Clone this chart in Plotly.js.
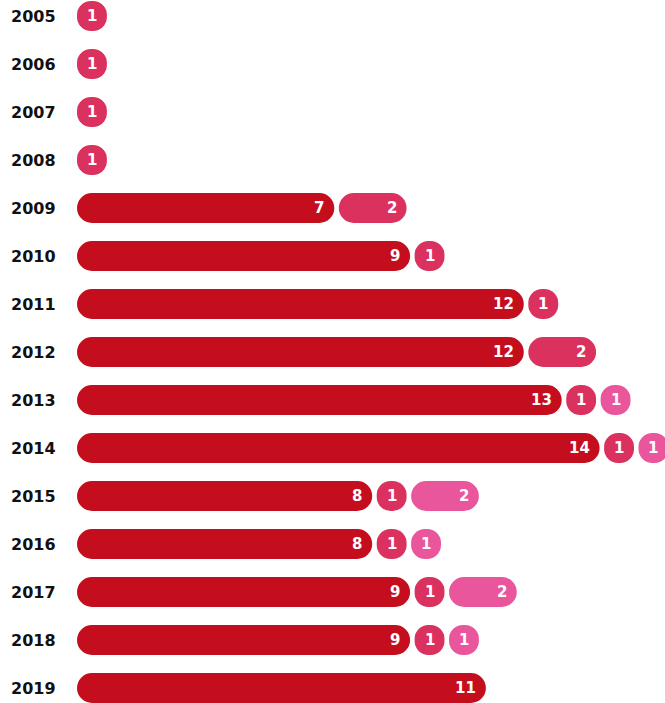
<!DOCTYPE html>
<html>
<head>
<meta charset="utf-8">
<script src="https://cdn.plot.ly/plotly-3.0.1.min.js"></script>
<style>html,body{margin:0;padding:0;background:#fff;}#chart{width:665px;height:703px;}</style>
</head>
<body>
<div id="chart"></div>
<script>
// ---- data ----
const years   = ['2005','2006','2007','2008','2009','2010','2011','2012','2013','2014','2015','2016','2017','2018','2019'];
const seriesA = [0, 0, 0, 0, 7, 9, 12, 12, 13, 14, 8, 8, 9, 9, 11];
const seriesB = [1, 1, 1, 1, 2, 1, 1, 2, 1, 1, 1, 1, 1, 1, 0];
const seriesC = [0, 0, 0, 0, 0, 0, 0, 0, 1, 1, 2, 1, 2, 1, 0];
const seriesNames = ['Series A', 'Series B', 'Series C'];
const colors = ['#C50E1D', '#DA315E', '#E9569B'];

// ---- layout helpers (px converted into value units) ----
const U = 37.9;            // px per unit
const shrink = 8 / U;      // each pill is shorter than its value
const gap = 4.5 / U;       // space between pills
const labelPad = 8 / U;    // label inset from the pill's right end
const series = [seriesA, seriesB, seriesC];

const starts = series.map(() => years.map(() => null));
const ends = series.map(() => years.map(() => null));
years.forEach((y, i) => {
  let pos = 0;
  series.forEach((s, k) => {
    const v = s[i];
    if (v > 0) {
      starts[k][i] = pos;
      ends[k][i] = pos + v - shrink;
      pos = ends[k][i] + gap;
    }
  });
});

const traces = series.map((s, k) => ({
  type: 'bar',
  orientation: 'h',
  name: seriesNames[k],
  y: years,
  x: years.map((y, i) => s[i] > 0 ? ends[k][i] - starts[k][i] : null),
  base: starts[k],
  width: 0.625,
  marker: {color: colors[k], cornerradius: 15, line: {width: 0}},
  showlegend: false,
  hoverinfo: 'skip'
}));

const annotations = [];
series.forEach((s, k) => {
  years.forEach((y, i) => {
    if (s[i] > 0) {
      annotations.push({
        x: ends[k][i] - labelPad, y: i, xref: 'x', yref: 'y',
        xanchor: 'right', yanchor: 'middle',
        text: String(s[i]), showarrow: false,
        font: {family: 'DejaVu Sans', size: 15, color: '#ffffff', weight: 'bold'}
      });
    }
  });
});

const layout = {
  width: 665, height: 703,
  margin: {l: 0, r: 0, t: 0, b: 0, pad: 0},
  paper_bgcolor: '#ffffff', plot_bgcolor: '#ffffff',
  barmode: 'overlay',
  showlegend: false,
  xaxis: {range: [-77 / U, (665 - 77) / U], visible: false, fixedrange: true},
  yaxis: {
    type: 'category', range: [14.3125, -0.3333],
    ticklabelposition: 'inside', ticks: '', ticklabelstandoff: 8,
    showgrid: false, zeroline: false, showline: false,
    tickfont: {family: 'DejaVu Sans', size: 16, color: '#111111', weight: 'bold'},
    automargin: false, fixedrange: true
  },
  annotations: annotations
};

Plotly.newPlot('chart', traces, layout, {displayModeBar: false, staticPlot: true});
</script>
</body>
</html>
